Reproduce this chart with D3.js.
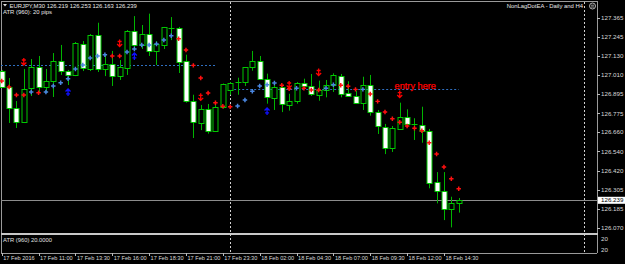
<!DOCTYPE html>
<html>
<head>
<meta charset="utf-8">
<script src="https://cdn.jsdelivr.net/npm/d3@7"></script>
<style>
  body { margin: 0; background: #000; }
  svg { display: block; }
  text { font-family: "Liberation Sans", Arial, sans-serif; }
</style>
</head>
<body>
<div id="chart"></div>
<script>
// EURJPY M30 bars, 17 Feb 2016 08:30 .. 18 Feb 15:30
const openP = [127.036,126.938,126.808,126.722,126.931,127.061,126.938,126.975,127.098,127.036,
  127.012,127.203,127.049,127.258,127.049,127.079,127.005,127.055,127.283,127.198,
  127.264,127.158,127.198,127.301,127.303,127.098,126.851,126.717,126.802,126.668,
  126.814,126.923,126.968,126.964,127.059,127.098,126.987,126.874,126.936,126.829,
  126.851,126.961,126.944,126.890,126.915,126.948,127.007,126.899,126.882,126.837,
  126.948,126.782,126.693,126.561,126.683,126.754,126.709,126.703,126.666,126.352,
  126.296,126.183,126.219];
const highP = [127.043,126.993,126.851,127.049,127.110,127.129,127.049,127.147,127.197,127.043,
  127.215,127.221,127.264,127.334,127.137,127.160,127.104,127.289,127.375,127.320,
  127.390,127.221,127.308,127.369,127.308,127.137,126.890,126.827,126.833,126.845,
  126.959,126.968,126.995,127.061,127.160,127.129,127.020,126.973,126.950,126.896,
  126.968,126.989,127.018,126.977,126.981,127.022,127.018,126.973,126.915,127.001,
  127.012,126.796,126.710,126.697,126.841,126.800,126.745,126.816,126.679,126.413,
  126.413,126.261,126.253];
const lowP = [126.932,126.716,126.685,126.717,126.882,126.907,126.902,126.876,127.012,126.950,
  127.005,127.036,127.036,127.030,127.005,126.944,126.981,127.012,127.178,127.172,
  127.129,127.073,127.172,127.227,127.024,126.841,126.623,126.672,126.650,126.666,
  126.804,126.890,126.890,126.944,127.038,126.981,126.835,126.796,126.783,126.792,
  126.835,126.931,126.882,126.853,126.874,126.907,126.874,126.876,126.833,126.796,
  126.761,126.648,126.524,126.537,126.682,126.693,126.611,126.594,126.313,126.220,
  126.117,126.072,126.163];
const closeP = [126.938,126.808,126.722,126.927,127.061,126.938,126.975,127.098,127.036,127.012,
  127.209,127.055,127.258,127.049,127.079,127.005,127.061,127.283,127.198,127.264,
  127.160,127.203,127.306,127.300,127.094,126.853,126.722,126.802,126.668,126.814,
  126.956,126.964,126.966,127.059,127.096,126.989,126.876,126.940,126.829,126.851,
  126.961,126.940,126.894,126.919,126.948,127.010,126.899,126.882,126.841,126.948,
  126.782,126.693,126.561,126.685,126.754,126.709,126.707,126.668,126.347,126.296,
  126.183,126.220,126.239];

// NonLagDot values and colour per bar (r = falling, b = rising)
const dotP = [126.975,126.938,126.888,126.888,126.907,126.902,126.907,126.944,126.964,126.989,
  127.049,127.073,127.116,127.129,127.137,127.129,127.129,127.153,127.172,127.197,
  127.197,127.203,127.227,127.254,127.235,127.166,127.071,126.993,126.901,126.841,
  126.819,126.816,126.820,126.857,126.911,126.944,126.952,126.962,126.948,126.927,
  126.930,126.930,126.919,126.919,126.930,126.952,126.948,126.942,126.923,126.923,
  126.894,126.849,126.783,126.742,126.720,126.697,126.683,126.668,126.594,126.524,
  126.444,126.372,126.310];
const dotDir = "rrrrbrbbbbbbbbbrrbbbbbbbrrrrrrrrbbbbbbrrbrrrbbrrrbrrrrrrrrrrrrr";

// signal arrows
const sellBars = [3, 16, 27, 39, 43, 54];
const sellP = [127.095, 127.209, 126.877, 126.953, 127.030, 126.894];
const buyBars = [9, 18, 36];
const buyP = [126.904, 127.126, 126.787];

// daily levels drawn by the EA (bar from, bar to, price)
const levelFrom = [-0.3, 31];
const levelTo = [29.2, 62];
const levelP = [127.073, 126.925];

const separatorBars = [31, 79];
const priceTicks = [127.365, 127.245, 127.130, 127.010, 126.895, 126.775, 126.660,
  126.540, 126.420, 126.305, 126.185, 126.070];
const timeLabels = ["17 Feb 2016", "17 Feb 11:00", "17 Feb 13:30", "17 Feb 16:00",
  "17 Feb 18:30", "17 Feb 21:00", "17 Feb 23:30", "18 Feb 02:00", "18 Feb 04:30",
  "18 Feb 07:00", "18 Feb 09:30", "18 Feb 12:00", "18 Feb 14:30"];
const bidP = 126.239;

const W = 625, H = 264;
const plotL = 1, plotR = 597, plotT = 1, mainBottom = 233;
const indTop = 235, indBottom = 253;

const svg = d3.select("#chart").append("svg")
  .attr("width", W).attr("height", H)
  .style("background", "#000");

const x = d3.scaleLinear().domain([0, 62]).range([1.7, 458.7]);
const y = d3.scaleLinear().domain([126.070, 127.365]).range([227.7, 17.7]);
const px = (i) => Math.round(x(i)) + 0.5;

// frame
svg.append("line").attr("x1", plotL).attr("x2", plotR).attr("y1", plotT + 0.5).attr("y2", plotT + 0.5)
  .attr("stroke", "#9a9a9a");
svg.append("line").attr("x1", plotL + 0.5).attr("x2", plotL + 0.5).attr("y1", plotT).attr("y2", indBottom)
  .attr("stroke", "#9a9a9a");
svg.append("line").attr("x1", plotR + 0.5).attr("x2", plotR + 0.5).attr("y1", plotT).attr("y2", indBottom)
  .attr("stroke", "#9a9a9a");
svg.append("rect").attr("x", plotL).attr("y", mainBottom).attr("width", plotR - plotL + 1).attr("height", 2)
  .attr("fill", "#c8c8c8");
svg.append("line").attr("x1", plotL).attr("x2", plotR).attr("y1", indBottom + 0.5).attr("y2", indBottom + 0.5)
  .attr("stroke", "#9a9a9a");

// day separators
svg.selectAll(".sep").data(separatorBars).join("line")
  .attr("x1", d => px(d)).attr("x2", d => px(d))
  .attr("y1", plotT + 1).attr("y2", indBottom)
  .attr("stroke", "#d0d0d0").attr("stroke-dasharray", "2,2");

// bid line
svg.append("line").attr("x1", plotL).attr("x2", plotR)
  .attr("y1", Math.round(y(bidP)) + 0.5).attr("y2", Math.round(y(bidP)) + 0.5)
  .attr("stroke", "#8c8c8c");

// EA daily levels
svg.selectAll(".lvl").data(levelP).join("line")
  .attr("x1", (d, i) => Math.max(plotL, x(levelFrom[i]))).attr("x2", (d, i) => x(levelTo[i]))
  .attr("y1", d => Math.round(y(d)) + 0.5).attr("y2", d => Math.round(y(d)) + 0.5)
  .attr("stroke", "#2f6fc0").attr("stroke-dasharray", "2,2");

// candles
const bars = d3.range(openP.length);
const g = svg.append("g");
g.selectAll(".wick").data(bars).join("line")
  .attr("x1", px).attr("x2", px)
  .attr("y1", i => y(highP[i])).attr("y2", i => y(lowP[i]))
  .attr("stroke", "#00b400");
g.selectAll(".body").data(bars).join("rect")
  .attr("x", i => Math.round(x(i)) - 2)
  .attr("width", 5)
  .attr("y", i => Math.round(y(Math.max(openP[i], closeP[i]))) + 0.5)
  .attr("height", i => Math.max(0.01, Math.round(Math.abs(y(openP[i]) - y(closeP[i])))))
  .attr("fill", i => closeP[i] < openP[i] ? "#ffffff" : "#000000")
  .attr("stroke", "#00c800");

// NonLagDot
const dot = d3.symbol().type(d3.symbolCross).size(11);
g.selectAll(".dot").data(bars).join("path")
  .attr("d", dot)
  .attr("transform", i => `translate(${x(i)},${y(dotP[i])})`)
  .attr("fill", i => dotDir[i] === "r" ? "#ff1010" : "#4a86e0");

// arrows
const downArrow = "M0,-3.5V3.5M-2,-1.5H2M-2.5,1L0,3.5L2.5,1";
const upArrow = "M0,3.5V-3.5M-2,1.5H2M-2.5,-1L0,-3.5L2.5,-1";
g.selectAll(".sell").data(sellBars).join("path")
  .attr("d", downArrow)
  .attr("transform", (d, i) => `translate(${x(d)},${y(sellP[i])})`)
  .attr("fill", "none").attr("stroke", "#ff0000").attr("stroke-width", 1.3);
g.selectAll(".buy").data(buyBars).join("path")
  .attr("d", upArrow)
  .attr("transform", (d, i) => `translate(${x(d)},${y(buyP[i])})`)
  .attr("fill", "none").attr("stroke", "#1010ff").attr("stroke-width", 1.3);

// annotation
svg.append("text").attr("x", x(53.3)).attr("y", y(126.928))
  .attr("fill", "#ff0000").attr("stroke", "#ff0000").attr("stroke-width", 0.25)
  .attr("font-size", 9.2).text("entry here");

// price axis
const axisG = svg.append("g").attr("transform", `translate(${plotR},0)`);
axisG.selectAll(".tk").data(priceTicks).join("line")
  .attr("x1", 0).attr("x2", 3)
  .attr("y1", d => Math.round(y(d)) + 0.5).attr("y2", d => Math.round(y(d)) + 0.5)
  .attr("stroke", "#bbbbbb");
axisG.selectAll(".tl").data(priceTicks).join("text")
  .attr("x", 4).attr("y", d => y(d) + 2.2)
  .attr("fill", "#d8d8d8").attr("font-size", 6.2)
  .text(d => d.toFixed(3));
axisG.append("rect").attr("x", 1).attr("y", y(bidP) - 3.5).attr("width", 27).attr("height", 7)
  .attr("fill", "#ffffff");
axisG.append("text").attr("x", 4).attr("y", y(bidP) + 2.2)
  .attr("fill", "#000").attr("font-size", 6.2).text(bidP.toFixed(3));

// time axis
const tg = svg.append("g");
tg.selectAll(".tt").data(timeLabels).join("line")
  .attr("x1", (d, i) => px(i * 5)).attr("x2", (d, i) => px(i * 5))
  .attr("y1", indBottom).attr("y2", indBottom + 3)
  .attr("stroke", "#bbbbbb");
tg.selectAll(".tx").data(timeLabels).join("text")
  .attr("x", (d, i) => x(i * 5) + 1.5).attr("y", 260)
  .attr("fill", "#d8d8d8").attr("font-size", 5.6)
  .text(d => d);

// indicator subwindow
svg.append("text").attr("x", 3).attr("y", 241.5).attr("fill", "#e0e0e0").attr("font-size", 5.8)
  .text("ATR (960) 20.0000");
const atrTicks = ["20", "20"];
svg.selectAll(".at").data(atrTicks).join("text")
  .attr("x", plotR + 4).attr("y", (d, i) => 240.5 + i * 11)
  .attr("fill", "#d8d8d8").attr("font-size", 6.2).text(d => d);

// header
svg.append("path").attr("d", "M3,4H7L5,6.5Z").attr("fill", "#e0e0e0");
svg.append("text").attr("x", 9.5).attr("y", 7.6).attr("fill", "#e8e8e8").attr("font-size", 5.9)
  .text("EURJPY,M30 126.219 126.253 126.163 126.239");
svg.append("text").attr("x", 3).attr("y", 14).attr("fill", "#e8e8e8").attr("font-size", 5.9)
  .text("ATR (960): 20 pips");
svg.append("text").attr("x", 583).attr("y", 8).attr("text-anchor", "end")
  .attr("fill", "#e8e8e8").attr("font-size", 5.9).text("NonLagDotEA - Daily and H4");
const face = svg.append("g").attr("transform", "translate(592.5,6)");
face.append("circle").attr("r", 3).attr("fill", "none").attr("stroke", "#e0e0e0").attr("stroke-width", 0.8);
face.append("line").attr("x1", -1.6).attr("x2", 1.6).attr("y1", -0.8).attr("y2", -0.8)
  .attr("stroke", "#e0e0e0").attr("stroke-width", 0.7);
face.append("line").attr("x1", -1.6).attr("x2", 1.6).attr("y1", 1).attr("y2", 1)
  .attr("stroke", "#e0e0e0").attr("stroke-width", 0.7);
</script>
</body>
</html>
